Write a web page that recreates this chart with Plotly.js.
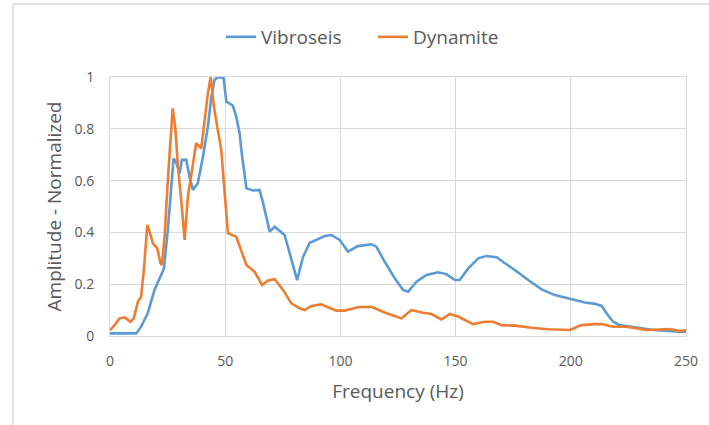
<!DOCTYPE html>
<html>
<head>
<meta charset="utf-8">
<script src="https://cdn.plot.ly/plotly-3.0.1.min.js"></script>
<style>
html,body{margin:0;padding:0;background:#fff;}
#chart{width:709px;height:425px;}
</style>
</head>
<body>
<div id="chart"></div>
<script>
// Vibroseis spectrum (frequency in Hz, normalized amplitude)
var vibFreq = [0, 5, 11.4, 13.5, 16.4, 19.3, 21.5, 23.4, 25.1, 26.6, 27.6, 28.7, 30.2, 31.2, 33.1, 34.5, 36, 38.1, 40.3, 42.5, 44, 45.4, 47, 49.3, 50.5, 53.3, 54.8, 56.3, 57, 59.2, 62, 64.9, 66.4, 69.3, 71.5, 75.8, 78.7, 81.2, 83.8, 86.7, 89.6, 93.2, 96.1, 99.7, 103.3, 107.6, 113.5, 115.6, 119.2, 123.6, 127.2, 129.4, 133, 137.4, 142.4, 146, 149.7, 151.8, 155.4, 159.8, 163.4, 167.8, 171.4, 175.7, 181.5, 187.3, 193.1, 200.3, 206.1, 210.5, 213.4, 215.5, 218.4, 221.3, 227.1, 235.8, 247.4, 250];
var vibAmp = [0.01, 0.01, 0.01, 0.036, 0.088, 0.178, 0.22, 0.26, 0.41, 0.60, 0.686, 0.67, 0.628, 0.68, 0.68, 0.615, 0.564, 0.59, 0.69, 0.81, 0.924, 0.99, 1.0, 0.995, 0.905, 0.89, 0.847, 0.78, 0.718, 0.57, 0.562, 0.564, 0.515, 0.403, 0.422, 0.39, 0.293, 0.216, 0.306, 0.36, 0.371, 0.386, 0.39, 0.371, 0.326, 0.347, 0.354, 0.345, 0.287, 0.223, 0.178, 0.171, 0.21, 0.236, 0.246, 0.239, 0.216, 0.216, 0.26, 0.30, 0.309, 0.304, 0.281, 0.255, 0.216, 0.18, 0.158, 0.142, 0.129, 0.124, 0.116, 0.088, 0.055, 0.042, 0.034, 0.023, 0.017, 0.017];

// Dynamite spectrum
var dynFreq = [0, 2, 4.1, 6.3, 8.9, 10.3, 12.1, 13.5, 14.7, 16.2, 17.2, 18.6, 20.5, 21.9, 22.5, 23.7, 25.1, 26.3, 27.2, 28.3, 29.5, 30.9, 32.4, 33.8, 35.5, 37.4, 39.6, 41, 42.5, 43.7, 45.1, 46.8, 48.3, 49.7, 51.2, 54.8, 57, 59.2, 62.8, 66, 68.6, 71.5, 75.1, 78.7, 82.3, 84.5, 87.4, 91.7, 94.6, 98.3, 101.9, 107.6, 113.5, 119.2, 126.5, 130.8, 135.9, 139.5, 143.9, 147.5, 151.1, 157.6, 162.7, 166.3, 169.9, 175.7, 183, 190.2, 199.6, 204.7, 210.5, 213.4, 218.4, 224.2, 232.9, 243, 247.4, 250];
var dynAmp = [0.023, 0.042, 0.068, 0.072, 0.055, 0.068, 0.132, 0.152, 0.255, 0.429, 0.403, 0.358, 0.339, 0.281, 0.274, 0.383, 0.602, 0.77, 0.879, 0.808, 0.654, 0.525, 0.371, 0.538, 0.641, 0.744, 0.725, 0.834, 0.937, 1.0, 0.885, 0.795, 0.718, 0.56, 0.397, 0.383, 0.332, 0.274, 0.248, 0.197, 0.214, 0.219, 0.178, 0.126, 0.107, 0.10, 0.116, 0.122, 0.111, 0.098, 0.098, 0.111, 0.113, 0.091, 0.068, 0.10, 0.09, 0.085, 0.064, 0.085, 0.075, 0.046, 0.055, 0.055, 0.042, 0.04, 0.032, 0.026, 0.023, 0.042, 0.046, 0.046, 0.036, 0.036, 0.023, 0.027, 0.019, 0.022];

var seriesNames = ["Vibroseis", "Dynamite"];
var xTickVals = [0, 50, 100, 150, 200, 250];
var xTickText = ["0", "50", "100", "150", "200", "250"];
var yTickVals = [0, 0.2, 0.4, 0.6, 0.8, 1];
var yTickText = ["0", "0.2", "0.4", "0.6", "0.8", "1"];

var FONT = "'Open Sans', Lato, sans-serif";
var L = 110, R = 23, T = 77, B = 89;
var W = 709 - L - R, H = 425 - T - B;
function px(x){ return (x - L) / W; }
function py(y){ return 1 - (y - T) / H; }

var traces = [
  {x: vibFreq, y: vibAmp, name: seriesNames[0], type: 'scatter', mode: 'lines',
   line: {color: '#5B9BD5', width: 2.6}},
  {x: dynFreq, y: dynAmp, name: seriesNames[1], type: 'scatter', mode: 'lines',
   line: {color: '#ED7D31', width: 2.6}}
];

var layout = {
  width: 709, height: 425,
  margin: {l: L, r: R, t: T, b: B, pad: 0},
  paper_bgcolor: '#ffffff', plot_bgcolor: '#ffffff',
  font: {family: FONT, color: '#595959', size: 14},
  showlegend: true,
  legend: {orientation: 'h', x: px(221), xanchor: 'left', y: py(37), yanchor: 'middle',
           font: {size: 19, color: '#595959', family: FONT}, entrywidth: 107, entrywidthmode: 'pixels',
           tracegroupgap: 0},
  xaxis: {
    range: [0, 250], tickvals: xTickVals, ticktext: xTickText,
    showgrid: true, gridcolor: '#d9d9d9', gridwidth: 1,
    showline: true, linecolor: '#d9d9d9', linewidth: 1, mirror: true,
    zeroline: false, ticks: '', ticklabelstandoff: 12,
    tickfont: {size: 14, color: '#595959', family: FONT},
    title: {text: 'Frequency (Hz)', font: {size: 19, color: '#595959', family: FONT}, standoff: 15},
    fixedrange: true
  },
  yaxis: {
    range: [0, 1], tickvals: yTickVals, ticktext: yTickText,
    showgrid: true, gridcolor: '#d9d9d9', gridwidth: 1,
    showline: true, linecolor: '#d9d9d9', linewidth: 1, mirror: true,
    zeroline: false, ticks: '', ticklabelstandoff: 12,
    tickfont: {size: 14, color: '#595959', family: FONT},
    title: {text: 'Amplitude - Normalized', font: {size: 19, color: '#595959', family: FONT}, standoff: 7},
    fixedrange: true
  },
  shapes: [
    {type: 'line', xref: 'paper', yref: 'paper', x0: px(13), x1: px(13), y0: py(4), y1: py(425),
     line: {color: '#d9d9d9', width: 1.5}},
    {type: 'line', xref: 'paper', yref: 'paper', x0: px(13), x1: px(709), y0: py(4), y1: py(4),
     line: {color: '#d9d9d9', width: 1.5}}
  ]
};

Plotly.newPlot('chart', traces, layout, {displayModeBar: false, staticPlot: true});
</script>
</body>
</html>
